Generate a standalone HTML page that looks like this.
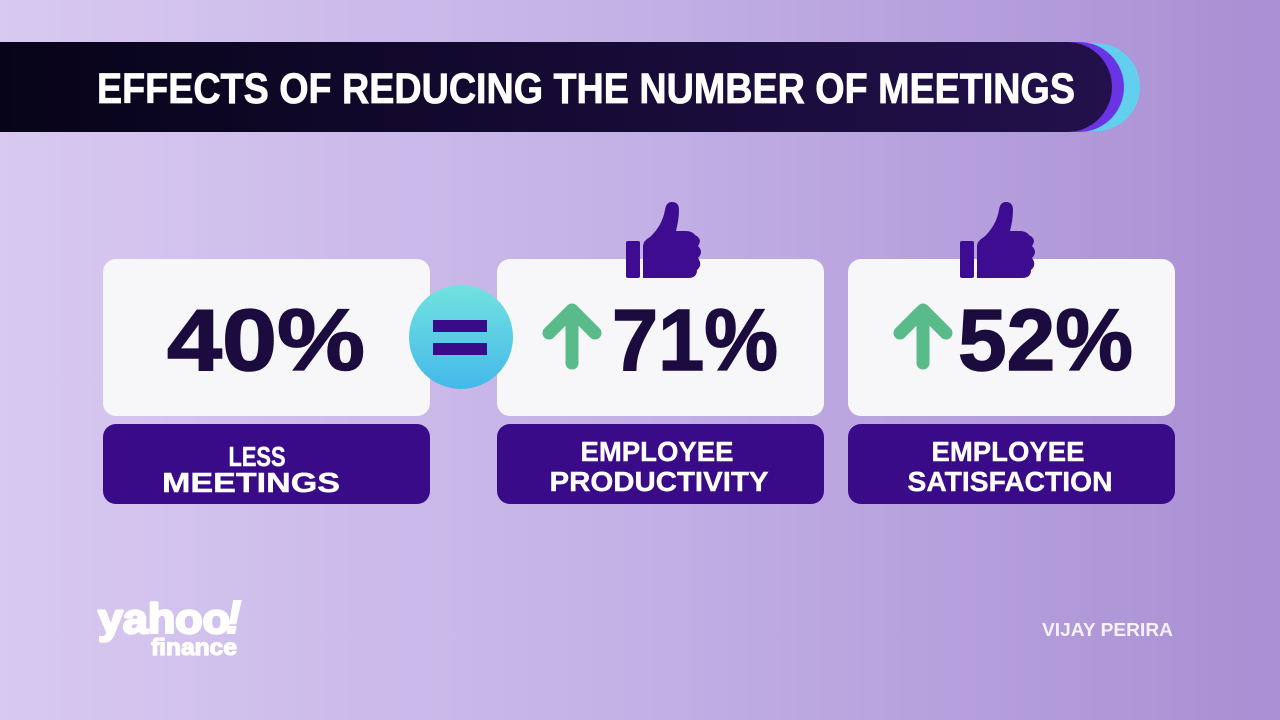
<!DOCTYPE html>
<html>
<head>
<meta charset="utf-8">
<style>
  html,body{margin:0;padding:0;width:1280px;height:720px;overflow:hidden;}
  svg{display:block;}
  text{font-family:"Liberation Sans",sans-serif;font-weight:bold;}
</style>
</head>
<body>
<svg width="1280" height="720" viewBox="0 0 1280 720" xmlns="http://www.w3.org/2000/svg">
  <defs>
    <linearGradient id="bg" x1="0" y1="0" x2="1" y2="0">
      <stop offset="0" stop-color="#d8c9f0"/>
      <stop offset="0.5" stop-color="#c3b0e6"/>
      <stop offset="1" stop-color="#a98fd3"/>
    </linearGradient>
    <linearGradient id="bar" x1="0" y1="0" x2="1" y2="0">
      <stop offset="0" stop-color="#060315"/>
      <stop offset="0.5" stop-color="#140a32"/>
      <stop offset="1" stop-color="#23104c"/>
    </linearGradient>
    <linearGradient id="eq" x1="0" y1="0" x2="0" y2="1">
      <stop offset="0" stop-color="#72e2df"/>
      <stop offset="1" stop-color="#44b9ea"/>
    </linearGradient>
    <linearGradient id="cy" x1="0" y1="0" x2="1" y2="0">
      <stop offset="0" stop-color="#4fc4ee"/>
      <stop offset="1" stop-color="#62cfee"/>
    </linearGradient>
  </defs>

  <rect x="0" y="0" width="1280" height="720" fill="url(#bg)"/>

  <!-- Title bar -->
  <rect x="-60" y="43" width="1200" height="88" rx="44" fill="url(#cy)"/>
  <rect x="-60" y="42" width="1184" height="90" rx="45" fill="#6a33e4"/>
  <rect x="-60" y="42" width="1172" height="90" rx="45" fill="url(#bar)"/>
  <text x="97" y="103" font-size="43" fill="#ffffff" stroke="#ffffff" stroke-width="0.8" textLength="978" lengthAdjust="spacingAndGlyphs">EFFECTS OF REDUCING THE NUMBER OF MEETINGS</text>

  <!-- Cards -->
  <rect x="103" y="259" width="327" height="157" rx="13" fill="#f7f6f9"/>
  <rect x="497" y="259" width="327" height="157" rx="13" fill="#f7f6f9"/>
  <rect x="848" y="259" width="327" height="157" rx="13" fill="#f7f6f9"/>

  <rect x="103" y="424" width="327" height="80" rx="13" fill="#3a0b88"/>
  <rect x="497" y="424" width="327" height="80" rx="13" fill="#3a0b88"/>
  <rect x="848" y="424" width="327" height="80" rx="13" fill="#3a0b88"/>

  <!-- Numbers -->
  <g fill="#1b0b3f" stroke="#1b0b3f" stroke-width="1.5" font-size="87">
    <text x="167" y="370" textLength="198" lengthAdjust="spacingAndGlyphs">40%</text>
    <text x="612" y="370" textLength="166" lengthAdjust="spacingAndGlyphs">71%</text>
    <text x="958" y="370" textLength="175" lengthAdjust="spacingAndGlyphs">52%</text>
  </g>

  <!-- Labels -->
  <g fill="#ffffff" font-size="28" text-anchor="middle" stroke="#ffffff" stroke-width="0.4">
    <text x="257" y="466" textLength="57" lengthAdjust="spacingAndGlyphs">LESS</text>
    <text x="251" y="492" textLength="178" lengthAdjust="spacingAndGlyphs">MEETINGS</text>
    <text x="657" y="461" textLength="153" lengthAdjust="spacingAndGlyphs">EMPLOYEE</text>
    <text x="659" y="491" textLength="219" lengthAdjust="spacingAndGlyphs">PRODUCTIVITY</text>
    <text x="1008" y="461" textLength="153" lengthAdjust="spacingAndGlyphs">EMPLOYEE</text>
    <text x="1010" y="491" textLength="205" lengthAdjust="spacingAndGlyphs">SATISFACTION</text>
  </g>

  <!-- Equal circle -->
  <circle cx="461" cy="337" r="52" fill="url(#eq)"/>
  <rect x="433" y="320" width="54" height="12" fill="#3a0b88"/>
  <rect x="433" y="343" width="54" height="12" fill="#3a0b88"/>

  <!-- Arrows -->
  <g fill="none" stroke="#58bb89" stroke-width="13" stroke-linecap="round" stroke-linejoin="round">
    <path d="M572,363 L572,312"/>
    <path d="M549,333 L572,310 L595,333"/>
    <path d="M923,363 L923,312"/>
    <path d="M900,333 L923,310 L946,333"/>
  </g>

  <!-- Thumbs -->
  <g fill="#3d0c90">
    <rect x="626" y="241" width="14" height="37" rx="2"/>
    <path d="M643,246 L643,278 L688,278 Q697,278 697,270 Q703,265 698,258 Q704,252 698,246 Q703,239 695,235 Q692,231 686,231 L676,231 Q679,219 679,210 Q679,202 672,202 Q666,202 665,210 Q662,226 650,237 Q643,241 643,246 Z"/>
  </g>
  <g fill="#3d0c90" transform="translate(334,0)">
    <rect x="626" y="241" width="14" height="37" rx="2"/>
    <path d="M643,246 L643,278 L688,278 Q697,278 697,270 Q703,265 698,258 Q704,252 698,246 Q703,239 695,235 Q692,231 686,231 L676,231 Q679,219 679,210 Q679,202 672,202 Q666,202 665,210 Q662,226 650,237 Q643,241 643,246 Z"/>
  </g>

  <!-- Yahoo finance logo -->
  <text x="98" y="633" font-size="42" fill="#ffffff" stroke="#ffffff" stroke-width="2.5" stroke-linejoin="round" textLength="132" lengthAdjust="spacingAndGlyphs">yahoo</text>
  <text x="226" y="633" font-size="46" fill="#ffffff" stroke="#ffffff" stroke-width="2" font-style="italic">!</text>
  <text x="151" y="655" font-size="23" fill="#ffffff" stroke="#ffffff" stroke-width="1.2" stroke-linejoin="round" textLength="86" lengthAdjust="spacingAndGlyphs">finance</text>

  <!-- Credit -->
  <text x="1042" y="636" font-size="18" fill="#f6f2fc" textLength="131" lengthAdjust="spacingAndGlyphs">VIJAY PERIRA</text>
</svg>
</body>
</html>
